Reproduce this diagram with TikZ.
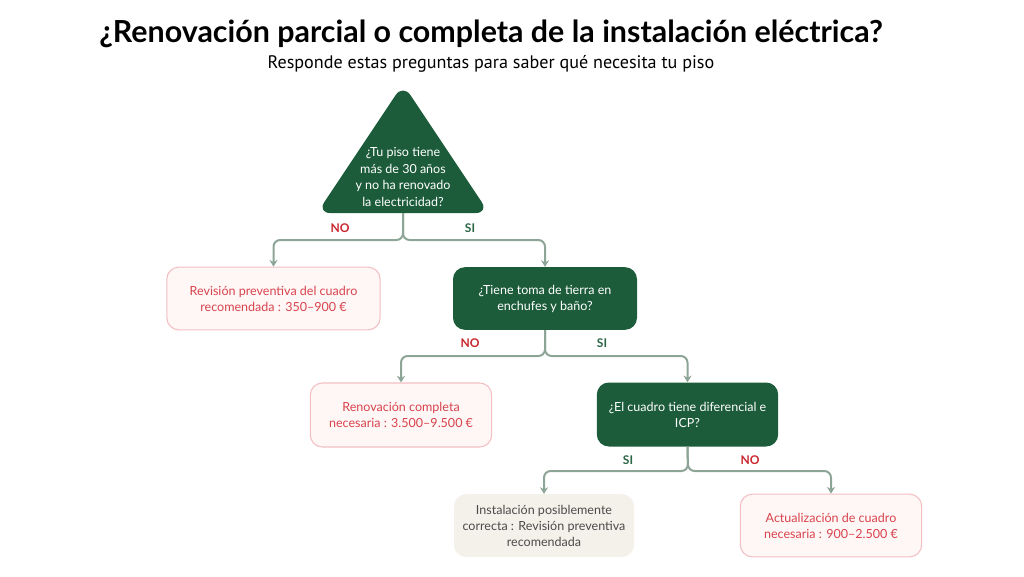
\documentclass[tikz,border=0pt]{standalone}
\usepackage{fontspec}
\setmainfont{Lato}
\newfontfamily\titlefont{Lato}
\newfontfamily\subfont{PT Sans}
\usetikzlibrary{arrows.meta}

\definecolor{darkgreen}{HTML}{1C5C3A}
\definecolor{softred}{HTML}{D8434C}
\definecolor{labelred}{HTML}{C9262E}
\definecolor{labelgreen}{HTML}{2B6644}
\definecolor{pinkfill}{HTML}{FFF6F6}
\definecolor{pinkline}{HTML}{F2BFC3}
\definecolor{beige}{HTML}{F4F1EA}
\definecolor{greytext}{HTML}{4A4A4A}
\definecolor{linkgrey}{HTML}{8CA596}

\tikzset{
  askbox/.style={fill=darkgreen, text=white, rounded corners=9pt, align=center,
    font=\fontsize{9.4}{12}\selectfont},
  costbox/.style={fill=pinkfill, draw=pinkline, line width=0.8pt, text=softred,
    rounded corners=9pt, align=center, font=\fontsize{9.4}{12}\selectfont},
  okbox/.style={fill=beige, text=greytext, rounded corners=9pt, align=center,
    font=\fontsize{9.4}{12}\selectfont},
  nolbl/.style={text=labelred, font=\bfseries\fontsize{9}{10}\selectfont},
  yeslbl/.style={text=labelgreen, font=\bfseries\fontsize{9}{10}\selectfont},
  conn/.style={draw=linkgrey, line width=1.5pt, rounded corners=5pt,
    -{Stealth[length=5pt,width=6pt]}}
}

\begin{document}
\begin{tikzpicture}[x=0.75pt,y=-0.75pt]
	\useasboundingbox (0,0) rectangle (1024,576);
	% titles
	\node (title) at (491,34) {\titlefont\bfseries\fontsize{22.8}{26}\selectfont ¿Renovación parcial o completa de la instalación eléctrica?};
	\node (subtitle) at (491,64) {\subfont\fontsize{13.6}{15}\selectfont Responde estas preguntas para saber qué necesita tu piso};
	% first question
	\fill[darkgreen, rounded corners=10pt] (403,84) -- (489,213) -- (317,213) -- cycle;
	\node[align=center, text=white, font=\fontsize{9.4}{12.6}\selectfont] (q1) at (403,177)
		{¿Tu piso tiene\\más de 30 años\\y no ha renovado\\la electricidad?};
	\coordinate (q1base) at (403,213);
	% boxes
	\node[costbox, minimum width=160pt, minimum height=47pt] (b1) at (273.5,298.5)
		{Revisión preventiva del cuadro\\recomendada : 350–900 €};
	\node[askbox, minimum width=138pt, minimum height=47pt] (q2) at (545,298.5)
		{¿Tiene toma de tierra en\\enchufes y baño?};
	\node[costbox, minimum width=136pt, minimum height=48pt] (b2) at (401,415)
		{Renovación completa\\necesaria : 3.500–9.500 €};
	\node[askbox, minimum width=136pt, minimum height=48pt] (q3) at (687.5,414.5)
		{¿El cuadro tiene diferencial e\\ICP?};
	\node[okbox, minimum width=135pt, minimum height=47pt] (b3) at (544,525.5)
		{Instalación posiblemente\\correcta : Revisión preventiva\\recomendada};
	\node[costbox, minimum width=136pt, minimum height=47pt] (b4) at (831,525.5)
		{Actualización de cuadro\\necesaria : 900–2.500 €};
	% junctions
	\coordinate (j1) at (403,240);
	\coordinate (j2) at (545,356);
	\coordinate (j3) at (688,471);
	% connectors
	\draw[conn] (q1base) -- (j1) -| (b1.north);
	\draw[conn] (q1base) -- (j1) -| (q2.north);
	\draw[conn] (q2.south) -- (j2) -| (b2.north);
	\draw[conn] (q2.south) -- (j2) -| (q3.north);
	\draw[conn] (q3.south) -- (j3) -| (b3.north);
	\draw[conn] (q3.south) -- (j3) -| (b4.north);
	% answers
	\node[nolbl] (no1) at (340,228) {NO};
	\node[yeslbl] (si1) at (470,228) {SI};
	\node[nolbl] (no2) at (470,343) {NO};
	\node[yeslbl] (si2) at (602,343) {SI};
	\node[yeslbl] (si3) at (628,460) {SI};
	\node[nolbl] (no3) at (750,460) {NO};
\end{tikzpicture}
\end{document}
